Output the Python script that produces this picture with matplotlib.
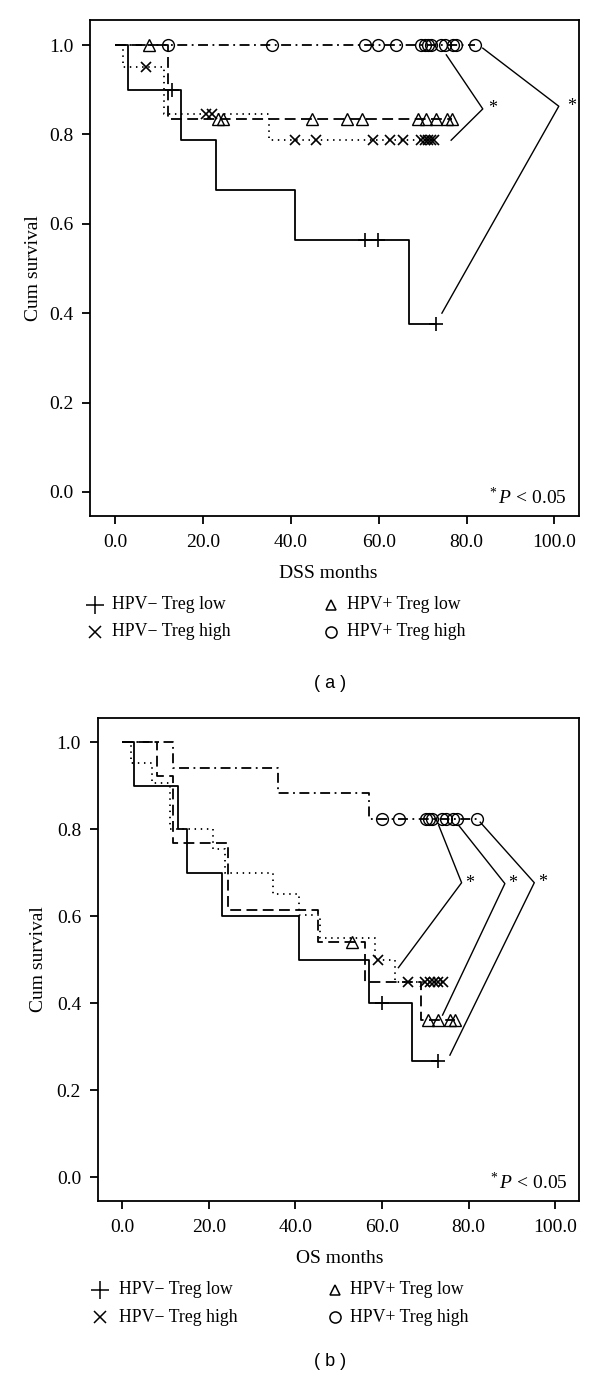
import numpy as np
import matplotlib
matplotlib.use("Agg")
import matplotlib.pyplot as plt
from matplotlib.lines import Line2D

plt.rcParams['font.family'] = ['Liberation Serif', 'DejaVu Serif']
plt.rcParams['mathtext.fontset'] = 'custom'
plt.rcParams['mathtext.rm'] = 'Liberation Serif'
plt.rcParams['mathtext.it'] = 'Liberation Serif:italic'

# ---------------- data (panel a: DSS) ----------------
dss_neg_low_t = [2.9, 14.9, 22.9, 40.9, 67.0]
dss_neg_low_s = [0.90, 0.788, 0.675, 0.563, 0.376]
dss_neg_low_c = [12.9, 57.0, 59.9, 73.1]

dss_neg_high_t = [1.9, 11.1, 35.0]
dss_neg_high_s = [0.95, 0.845, 0.787]
dss_neg_high_c = [7.0, 20.8, 22.0, 40.9, 45.8, 58.7, 62.5, 65.5, 69.7, 70.5, 71.2, 72.0, 72.7]

dss_pos_low_t = [12.0]
dss_pos_low_s = [0.834]
dss_pos_low_c = [7.8, 23.5, 24.6, 44.9, 52.7, 56.1, 68.9, 70.8, 73.1, 75.6, 76.6]

dss_pos_high_t = []
dss_pos_high_s = []
dss_pos_high_c = [12.0, 35.8, 57.0, 59.9, 64.0, 69.7, 70.5, 71.2, 72.0, 74.2, 75.0, 76.9, 77.7, 82.0]

# significance brackets (panel a)
dss_br1_t = [75.4, 83.7, 76.5]
dss_br1_s = [0.978, 0.857, 0.787]
dss_br1_star = (86.0, 0.857)
dss_br2_t = [83.7, 101.0, 74.4]
dss_br2_s = [0.993, 0.863, 0.400]
dss_br2_star = (104.0, 0.863)

# ---------------- data (panel b: OS) ----------------
os_neg_low_t = [2.8, 12.9, 14.9, 23.0, 40.9, 56.9, 67.0]
os_neg_low_s = [0.90, 0.80, 0.70, 0.60, 0.50, 0.40, 0.267]
os_neg_low_c = [59.9, 72.9]

os_neg_high_t = [2.0, 6.9, 11.0, 21.0, 23.7, 34.8, 40.9, 45.7, 58.5, 63.0]
os_neg_high_s = [0.952, 0.905, 0.80, 0.754, 0.70, 0.652, 0.602, 0.551, 0.50, 0.449]
os_neg_high_c = [59.0, 65.9, 70.0, 71.0, 72.0, 73.0, 74.0]

os_pos_low_t = [7.9, 11.8, 24.5, 45.1, 56.1, 69.0]
os_pos_low_s = [0.923, 0.769, 0.615, 0.541, 0.449, 0.361]
os_pos_low_c = [53.0, 70.7, 73.0, 75.7, 76.9]

os_pos_high_t = [11.8, 35.9, 56.9]
os_pos_high_s = [0.941, 0.882, 0.824]
os_pos_high_c = [59.9, 64.0, 70.1, 70.9, 71.6, 73.8, 74.8, 76.5, 77.3, 81.9]

os_br1_t = [73.1, 78.4, 63.8]
os_br1_s = [0.809, 0.677, 0.482]
os_br1_star = (80.3, 0.675)
os_br2_t = [77.7, 88.4, 74.0]
os_br2_s = [0.809, 0.675, 0.373]
os_br2_star = (90.3, 0.675)
os_br3_t = [82.7, 95.2, 75.7]
os_br3_s = [0.816, 0.677, 0.281]
os_br3_star = (97.2, 0.677)

group_labels = ['HPV\u2212 Treg low', 'HPV\u2212 Treg high', 'HPV+ Treg low', 'HPV+ Treg high']
xticks = [0, 20, 40, 60, 80, 100]
yticks = [0.0, 0.2, 0.4, 0.6, 0.8, 1.0]

# ---------------- styles ----------------
styles = [
    dict(ls='-', marker='+', ms=10, mew=1.2),
    dict(ls=(0, (0.8, 2.6)), marker='x', ms=7.5, mew=1.2),
    dict(ls=(0, (6, 3)), marker='^', ms=8.5, mew=1.0),
    dict(ls=(0, (5.5, 2.5, 1, 2.5)), marker='o', ms=8.5, mew=1.0),
]

W, H = 600, 1380
fig = plt.figure(figsize=(W / 100, H / 100), dpi=100)


def fx(px):
    return px / W


def fy(py):
    return 1 - py / H


def km_curve(ax, ev_t, ev_s, cens, st):
    t = [0.0] + list(ev_t)
    s = [1.0] + list(ev_s)
    t_end = max(t + list(cens))
    t_plot = t + [t_end]
    s_plot = s + [s[-1]]
    ax.step(t_plot, s_plot, where='post', color='black', lw=1.3,
            linestyle=st['ls'], solid_capstyle='butt', dash_capstyle='butt')
    tt = np.array(t)
    ss = np.array(s)
    cy = [ss[np.searchsorted(tt, c, side='right') - 1] for c in cens]
    if st['marker'] in ('^', 'o'):
        ax.plot(cens, cy, linestyle='none', marker=st['marker'], ms=st['ms'],
                mfc='none', mec='black', mew=st['mew'])
    else:
        ax.plot(cens, cy, linestyle='none', marker=st['marker'], ms=st['ms'],
                color='black', mew=st['mew'])


def style_axes(ax, xlabel, xlab_xy, ylab_x):
    ax.set_xlim(-5.7, 105.6)
    ax.set_ylim(-0.054, 1.056)
    ax.set_xticks(xticks)
    ax.set_xticklabels([f'{v:.1f}' for v in xticks])
    ax.set_yticks(yticks)
    ax.set_yticklabels([f'{v:.1f}' for v in yticks])
    ax.tick_params(direction='out', length=6, width=1.3, labelsize=14)
    ax.tick_params(axis='x', pad=7)
    ax.tick_params(axis='y', pad=6)
    for sp in ax.spines.values():
        sp.set_linewidth(1.3)
    ax.set_xlabel(xlabel, fontsize=14)
    ax.xaxis.set_label_coords(*xlab_xy)
    ax.set_ylabel('Cum survival', fontsize=14)
    ax.yaxis.set_label_coords(ylab_x, 0.5)
    ax.text(0.975, 0.038, r'$^{*}\,\mathit{P}$ < 0.05', transform=ax.transAxes,
            ha='right', va='center', fontsize=14)


def bracket(ax, bt, bs, star):
    ax.plot(bt, bs, color='black', lw=1.0)
    ax.text(star[0], star[1], '*', ha='center', va='center', fontsize=13)


def legend(y1, y2, xm1, xt1, xm2, xt2):
    pos = [(xm1, xt1, y1), (xm1, xt1, y2), (xm2, xt2, y1), (xm2, xt2, y2)]
    sizes = [13, 9, 7, 8]
    for (xm, xt, y), st, lab, ms in zip(pos, styles, group_labels, sizes):
        fig.add_artist(Line2D([fx(xm)], [fy(y)], transform=fig.transFigure,
                              marker=st['marker'], ms=ms,
                              mfc='none', mec='black', mew=1.1, linestyle='none'))
        fig.text(fx(xt), fy(y), lab, ha='left', va='center', fontsize=12.8)


# ---------------- panel a ----------------
ax1 = fig.add_axes([fx(90), fy(516), fx(579) - fx(90), fy(20) - fy(516)])
km_curve(ax1, dss_neg_low_t, dss_neg_low_s, dss_neg_low_c, styles[0])
km_curve(ax1, dss_neg_high_t, dss_neg_high_s, dss_neg_high_c, styles[1])
km_curve(ax1, dss_pos_low_t, dss_pos_low_s, dss_pos_low_c, styles[2])
km_curve(ax1, dss_pos_high_t, dss_pos_high_s, dss_pos_high_c, styles[3])
bracket(ax1, dss_br1_t, dss_br1_s, dss_br1_star)
bracket(ax1, dss_br2_t, dss_br2_s, dss_br2_star)
style_axes(ax1, 'DSS months', (0.487, -0.099), -0.098)
legend(605, 632, 95, 112, 331, 347)
fig.text(fx(330), fy(683), '( a )', ha='center', va='center', fontsize=13,
         family=['Liberation Sans', 'DejaVu Sans'])

# ---------------- panel b ----------------
ax2 = fig.add_axes([fx(97.7), fy(1201), fx(579.3) - fx(97.7), fy(717.7) - fy(1201)])
km_curve(ax2, os_neg_low_t, os_neg_low_s, os_neg_low_c, styles[0])
km_curve(ax2, os_neg_high_t, os_neg_high_s, os_neg_high_c, styles[1])
km_curve(ax2, os_pos_low_t, os_pos_low_s, os_pos_low_c, styles[2])
km_curve(ax2, os_pos_high_t, os_pos_high_s, os_pos_high_c, styles[3])
bracket(ax2, os_br1_t, os_br1_s, os_br1_star)
bracket(ax2, os_br2_t, os_br2_s, os_br2_star)
bracket(ax2, os_br3_t, os_br3_s, os_br3_star)
style_axes(ax2, 'OS months', (0.503, -0.102), -0.105)
legend(1290, 1317, 100, 119, 335, 350)
fig.text(fx(330), fy(1362), '( b )', ha='center', va='center', fontsize=13,
         family=['Liberation Sans', 'DejaVu Sans'])

fig.savefig('out.png', dpi=100)
